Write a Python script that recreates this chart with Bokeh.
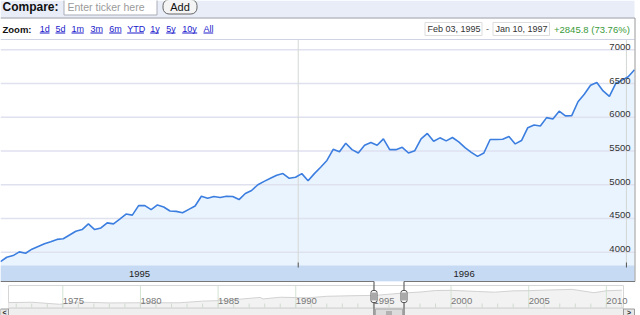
import math
import numpy as np
import pandas as pd
from bokeh.plotting import figure
from bokeh.models import Range1d, LinearScale, LogScale
from bokeh.core.properties import value
from bokeh.embed import file_html
from bokeh.resources import INLINE

# ---------------- data ----------------
start_date = "1995-02-03"
closes = [3860, 3925, 3950, 4005, 3985, 4045, 4085, 4125, 4155, 4190,
          4200, 4255, 4310, 4335, 4420, 4335, 4360, 4435, 4420, 4490,
          4565, 4550, 4690, 4690, 4630, 4700, 4670, 4610, 4605, 4585,
          4635, 4685, 4830, 4800, 4825, 4810, 4830, 4825, 4780, 4870,
          4915, 5000, 5050, 5095, 5140, 5165, 5095, 5110, 5165, 5060,
          5165, 5260, 5360, 5525, 5490, 5615, 5520, 5470, 5585, 5625,
          5585, 5680, 5520, 5520, 5555, 5470, 5505, 5680, 5760, 5645,
          5695, 5650, 5700, 5635, 5550, 5480, 5420, 5470, 5670, 5670,
          5675, 5715, 5605, 5655, 5845, 5885, 5870, 5995, 5975, 6090,
          6020, 6025, 6230, 6340, 6475, 6515, 6390, 6310, 6500, 6550,
          6600, 6704]
y_ticks = [4000, 4500, 5000, 5500, 6000, 6500, 7000]
year_labels = ["1995", "1996"]
year_label_dates = ["1995-07-08", "1996-07-04"]
year_breaks = ["1996-01-01", "1997-01-01"]
range_from = "Feb 03, 1995"
range_to = "Jan 10, 1997"
change_text = "+2845.8 (73.76%)"
zoom_links = ["1d", "5d", "1m", "3m", "6m", "YTD", "1y", "5y", "10y", "All"]
nav_years = [1971.5, 1973, 1974.8, 1976, 1978, 1980, 1982.5, 1984, 1985.5, 1987.7,
             1987.9, 1989, 1990.8, 1992, 1994, 1995.09, 1996, 1997.03, 1998, 1999,
             2000, 2001.7, 2002.8, 2004, 2005, 2006, 2007.8, 2009.2, 2010, 2011]
nav_values = [880, 950, 620, 980, 820, 850, 850, 1200, 1400, 2600,
              1900, 2700, 2400, 3300, 3800, 3950, 5100, 6700, 8000, 11000,
              11500, 9000, 7800, 10300, 10700, 12000, 14000, 7000, 10500, 11800]
nav_ticks = [1975, 1980, 1985, 1990, 1995, 2000, 2005, 2010]

# ---------------- layout constants (pixels) ----------------
W, H = 640, 315
CH_R = 634          # right edge of main chart
CH_TOP, CH_BOT = 39, 265
BAR_BOT = 281
FONT = "Liberation Sans"

dates = pd.date_range(start_date, periods=len(closes), freq="7D")
xs = (dates.asi8 // 10**6).astype(float)


def to_ms(s):
    return pd.Timestamp(s).value / 1e6


px_per_ms = CH_R / (xs[-1] - xs[0])
x_range = Range1d(xs[0], xs[0] + W / px_per_ms)

# y calibration: top tick at 49.3px, bottom tick at 251.7px (from top)
t_hi, t_lo = y_ticks[-1], y_ticks[0]
py_hi, py_lo = 49.3, 251.7
ppu = (py_lo - py_hi) / (t_hi - t_lo)


def val_at(py):
    return t_hi - (py - py_hi) / ppu


y_range = Range1d(val_at(H), val_at(0))

# navigator ranges
nav_px0, nav_pp_year = 62.3, 15.53
nav_x = Range1d(nav_ticks[0] - nav_px0 / nav_pp_year, nav_ticks[0] + (W - nav_px0) / nav_pp_year)
lg0, nav_py0, px_per_dec = math.log10(900), 302.0, 11.0
nav_y = Range1d(10 ** (lg0 - (H - nav_py0) / px_per_dec), 10 ** (lg0 + nav_py0 / px_per_dec))

p = figure(width=W, height=H, x_range=x_range, y_range=y_range,
           output_backend="svg", toolbar_location=None, tools="",
           min_border=0, x_axis_location=None, y_axis_location=None,
           outline_line_color=None, background_fill_color="white",
           border_fill_color="white")
p.grid.visible = False
p.extra_x_ranges = {"px": Range1d(0, W), "nav": nav_x}
p.extra_y_ranges = {"px": Range1d(H, 0), "nav": nav_y}
p.extra_x_scales = {"px": LinearScale(), "nav": LinearScale()}
p.extra_y_scales = {"px": LinearScale(), "nav": LogScale()}

PX = dict(x_range_name="px", y_range_name="px")


def T(x, y, s, size, color="#333333", align="left", baseline="middle",
      bold=False, xr="px", yr="px", font=FONT):
    xl = x if isinstance(x, (list, tuple, np.ndarray)) else [x]
    yl = y if isinstance(y, (list, tuple, np.ndarray)) else [y] * len(xl)
    sl = s if isinstance(s, (list, tuple)) else [s] * len(xl)
    p.text(x=list(xl), y=list(yl), text=list(sl), text_font=value(font),
           text_font_size=size, text_color=color, text_align=align,
           text_baseline=baseline, text_font_style="bold" if bold else "normal",
           x_range_name=xr, y_range_name=yr)


# ---------------- main chart ----------------
p.varea(x=xs, y1=y_range.start, y2=closes, fill_color="#eaf4fe")
p.segment(x0=[xs[0]] * len(y_ticks), x1=[xs[-1]] * len(y_ticks), y0=y_ticks, y1=y_ticks,
          line_color="#dfe1ef", line_width=1.5)
brk = [to_ms(d) for d in year_breaks]
p.segment(x0=brk, x1=brk, y0=[CH_TOP] * len(brk), y1=[CH_BOT] * len(brk),
          line_color="#d3d8d3", line_width=1, y_range_name="px")
p.line(xs, closes, line_color="#3b7ee0", line_width=1.6)
T([630] * len(y_ticks), y_ticks, [str(t) for t in y_ticks], "9.5px", color="#333333",
  align="right", baseline="bottom", yr="default")

# chart top border
p.segment(x0=[0], x1=[CH_R], y0=[CH_TOP], y1=[CH_TOP], line_color="#d0d3e3", line_width=1, **PX)

# year bar
p.quad(left=[0], right=[CH_R], top=[CH_BOT], bottom=[BAR_BOT], fill_color="#c7daf3",
       line_color=None, **PX)
p.segment(x0=brk, x1=brk, y0=[262] * len(brk), y1=[267] * len(brk),
          line_color="#555555", line_width=1, y_range_name="px")
T([to_ms(d) for d in year_label_dates], [273.5] * len(year_labels), year_labels, "9.5px",
  color="#222222", align="center", xr="default")

# white area below chart
p.quad(left=[0], right=[W], top=[BAR_BOT], bottom=[H], fill_color="white", line_color=None, **PX)

# ---------------- header ----------------
p.quad(left=[0], right=[CH_R], top=[0], bottom=[17], fill_color="#e8edf8", line_color=None, **PX)
p.segment(x0=[0], x1=[CH_R + 0.5], y0=[17.5], y1=[17.5], line_color="#9699a6", line_width=1, **PX)
T(2, 6, "Compare:", "12px", color="#111111", bold=True)
p.quad(left=[63.5], right=[156.5], top=[-1], bottom=[14.5], fill_color="white",
       line_color="#a9adb8", line_width=1, **PX)
T(67, 6.5, "Enter ticker here", "10.5px", color="#9a9a9a")
p.quad(left=[162.5], right=[196.5], top=[-1], bottom=[13.5], fill_color="#f4f4f4",
       line_color="#666666", line_width=1, border_radius=6, **PX)
T(179.5, 6, "Add", "11px", color="#111111", align="center")

# zoom row
T(2, 28.5, "Zoom:", "9.5px", color="#111111", bold=True)
zoom_x = [39.3, 55, 71, 90, 108.7, 126.7, 149.7, 165.7, 181.7, 203]
zoom_w = [9.7, 9.7, 12.3, 12.3, 12.3, 16.7, 8.7, 9.3, 15, 9.7]
T(zoom_x, [28.5] * len(zoom_x), zoom_links, "9px", color="#1a1acc")
p.segment(x0=zoom_x, x1=[a + b for a, b in zip(zoom_x, zoom_w)], y0=[32.5] * len(zoom_x),
          y1=[32.5] * len(zoom_x), line_color="#1a1acc", line_width=1, **PX)

# date range boxes
p.quad(left=[424.5, 492.5], right=[481.5, 549], top=[22, 22], bottom=[35, 35],
       fill_color="white", line_color="#dddddd", line_width=1, **PX)
T(427, 28.5, range_from, "9px", color="#333333")
T(495, 28.5, range_to, "9px", color="#333333")
T(487, 28.5, "-", "9px", color="#555555", align="center")
T(553.5, 28.5, change_text, "9.5px", color="#3a9a3a")

# right border of chart block
p.segment(x0=[CH_R + 0.5], x1=[CH_R + 0.5], y0=[17.5], y1=[BAR_BOT], line_color="#999999",
          line_width=1, **PX)

# ---------------- navigator ----------------
p.quad(left=[8], right=[623], top=[285], bottom=[307], fill_color="white",
       line_color="#d6d6d6", line_width=1, **PX)
p.varea(x=nav_years, y1=nav_y.start, y2=nav_values, fill_color="#f2f2f2",
        x_range_name="nav", y_range_name="nav")
p.quad(left=[8], right=[623], top=[307], bottom=[H], fill_color="white", line_color=None, **PX)
p.segment(x0=nav_ticks, x1=nav_ticks, y0=[285.5] * len(nav_ticks), y1=[307] * len(nav_ticks),
          line_color="#d3e3d3", line_width=1, x_range_name="nav", y_range_name="px")
minor = list(range(1972, 2012))
p.segment(x0=minor, x1=minor, y0=[303] * len(minor), y1=[307] * len(minor),
          line_color="#cfdccf", line_width=1, x_range_name="nav", y_range_name="px")
p.line(nav_years, nav_values, line_color="#d2d2d2", line_width=1,
       x_range_name="nav", y_range_name="nav")
T(nav_ticks, [300.8] * len(nav_ticks), [str(t) for t in nav_ticks], "9.5px",
  color="#777777", xr="nav")

sel_from = 1995 + (pd.Timestamp(start_date).dayofyear - 1) / 365
sel_to = 1997 + (dates[-1].dayofyear - 1) / 365
sx = [y for y in nav_years if sel_from <= y <= sel_to]
sv = [v for y, v in zip(nav_years, nav_values) if sel_from <= y <= sel_to]
p.line(sx, sv, line_color="#3b7ee0", line_width=1.5, x_range_name="nav", y_range_name="nav")

# scrollbar
p.quad(left=[8], right=[623], top=[307.5], bottom=[H + 1], fill_color="#efefef",
       line_color="#c8c8c8", line_width=1, **PX)
p.quad(left=[0], right=[8], top=[308.5], bottom=[H + 1], fill_color="#e6e6e6",
       line_color="#9a9a9a", line_width=1, **PX)
p.quad(left=[623], right=[CH_R], top=[308.5], bottom=[H + 1], fill_color="#e6e6e6",
       line_color="#9a9a9a", line_width=1, **PX)
T(4, 311.5, "<", "7px", color="#222222", align="center", bold=True)
T(628.5, 311.5, ">", "7px", color="#222222", align="center", bold=True)
p.quad(left=[375], right=[402], top=[308.5], bottom=[H + 1], fill_color="#dcdcdc",
       line_color="#aaaaaa", line_width=1, **PX)
p.segment(x0=[386.5, 388.5, 390.5], x1=[386.5, 388.5, 390.5], y0=[310.5] * 3, y1=[H] * 3,
          line_color="#888888", line_width=1, **PX)

# main chart bottom border and selection window frame
win_l, win_r = 373.5, 403.5
p.segment(x0=[0, win_r], x1=[win_l, CH_R + 0.5], y0=[BAR_BOT] * 2, y1=[BAR_BOT] * 2,
          line_color="#777777", line_width=1.2, **PX)
p.segment(x0=[win_l, win_r], x1=[win_l, win_r], y0=[BAR_BOT] * 2, y1=[H] * 2,
          line_color="#666666", line_width=1.2, **PX)
for hx in (win_l, win_r):
    p.quad(left=[hx - 3], right=[hx + 3], top=[290], bottom=[302], fill_color="white",
           line_color="#555555", line_width=1, border_radius=2, **PX)
    p.segment(x0=[hx - 1, hx + 1], x1=[hx - 1, hx + 1], y0=[292] * 2, y1=[300] * 2,
              line_color="#555555", line_width=1, **PX)

open("out.html", "w").write(file_html(p, INLINE))
